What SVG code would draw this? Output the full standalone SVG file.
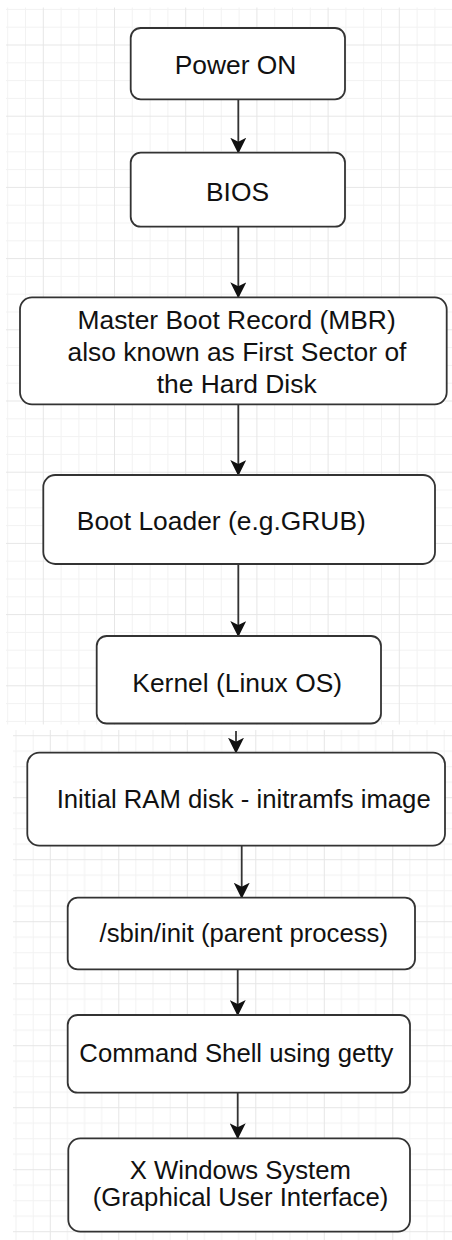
<svg xmlns="http://www.w3.org/2000/svg" width="452" height="1240" viewBox="0 0 452 1240">
<style>
.box{fill:#ffffff;stroke:#333333;stroke-width:1.8}
.lbl{font-family:"Liberation Sans",Arial,sans-serif;fill:#111111;text-anchor:middle}
.up{font-size:26.4px}
.lo{font-size:25.7px}
.edge{stroke:#333333;stroke-width:1.8;fill:none;marker-end:url(#arr)}
</style>
<defs>
<marker id="arr" viewBox="0 0 16 16" markerWidth="16" markerHeight="16" markerUnits="userSpaceOnUse" refX="15" refY="8" orient="auto">
<path d="M0,0 L16,8 L0,16 L4,8 Z" fill="#111111"/>
</marker>
<pattern id="gU" patternUnits="userSpaceOnUse" x="42.8" y="44.5" width="71.2" height="71.2">
<path d="M18.3 0V71.2M36.1 0V71.2M53.9 0V71.2M0 18.3H71.2M0 36.1H71.2M0 53.9H71.2" stroke="#f2f2f2" stroke-width="1"/>
<path d="M0.5 0V71.2M0 0.5H71.2" stroke="#e6e6e6" stroke-width="1"/>
</pattern>
<pattern id="gL" patternUnits="userSpaceOnUse" x="49.8" y="921.2" width="68.5" height="62">
<path d="M17.6 0V62M34.75 0V62M51.9 0V62M0 16H68.5M0 31.5H68.5M0 47H68.5" stroke="#f2f2f2" stroke-width="1"/>
<path d="M0.5 0V62M0 0.5H68.5" stroke="#e6e6e6" stroke-width="1"/>
</pattern>
</defs>
<rect x="0" y="0" width="452" height="1240" fill="#ffffff"/>
<rect x="6" y="7.5" width="446" height="717" fill="url(#gU)"/>
<rect x="13" y="730" width="439" height="510" fill="url(#gL)"/>

<g id="connectors">
<path class="edge" d="M238.3 99.3V152.7"/>
<path class="edge" d="M238.3 226.7V297.3"/>
<path class="edge" d="M238.3 404.3V475"/>
<path class="edge" d="M238.3 564V636"/>
<path class="edge" d="M236 731V752.7"/>
<path class="edge" d="M241.7 845.7V897.7"/>
<path class="edge" d="M237.7 969.3V1015"/>
<path class="edge" d="M237.7 1092.7V1138.3"/>
</g>

<g id="power-on">
<rect class="box" x="130.7" y="28" width="214.3" height="71.3" rx="10"/>
<text class="lbl up" x="235.5" y="74">Power ON</text>
</g>
<g id="bios">
<rect class="box" x="130.7" y="152.7" width="214.3" height="74" rx="10"/>
<text class="lbl up" x="237.5" y="201">BIOS</text>
</g>
<g id="mbr">
<rect class="box" x="20" y="297.3" width="426.7" height="107" rx="12"/>
<text class="lbl up" x="236.6" y="329.3">Master Boot Record (MBR)</text>
<text class="lbl up" x="237" y="360.7">also known as First Sector of</text>
<text class="lbl up" x="236.7" y="392.5">the Hard Disk</text>
</g>
<g id="boot-loader">
<rect class="box" x="43.3" y="475" width="391.7" height="89" rx="12"/>
<text class="lbl up" x="221.3" y="530">Boot Loader (e.g.GRUB)</text>
</g>
<g id="kernel">
<rect class="box" x="96.7" y="636" width="284.3" height="87.5" rx="10"/>
<text class="lbl up" x="237.2" y="691.7">Kernel (Linux OS)</text>
</g>
<g id="initramfs">
<rect class="box" x="27.3" y="752.7" width="417.7" height="93" rx="12"/>
<text class="lbl lo" x="243.7" y="808.3">Initial RAM disk - initramfs image</text>
</g>
<g id="sbin-init">
<rect class="box" x="67.7" y="897.7" width="347.3" height="71.6" rx="10"/>
<text class="lbl lo" x="243.8" y="941.7">/sbin/init (parent process)</text>
</g>
<g id="command-shell">
<rect class="box" x="67.7" y="1015" width="342.3" height="77.7" rx="10"/>
<text class="lbl lo" x="236.4" y="1061.7">Command Shell using getty</text>
</g>
<g id="x-windows">
<rect class="box" x="68.3" y="1138.3" width="341.7" height="93.4" rx="12"/>
<text class="lbl lo" x="240.3" y="1179.3">X Windows System</text>
<text class="lbl lo" x="240.5" y="1205.5">(Graphical User Interface)</text>
</g>
</svg>
